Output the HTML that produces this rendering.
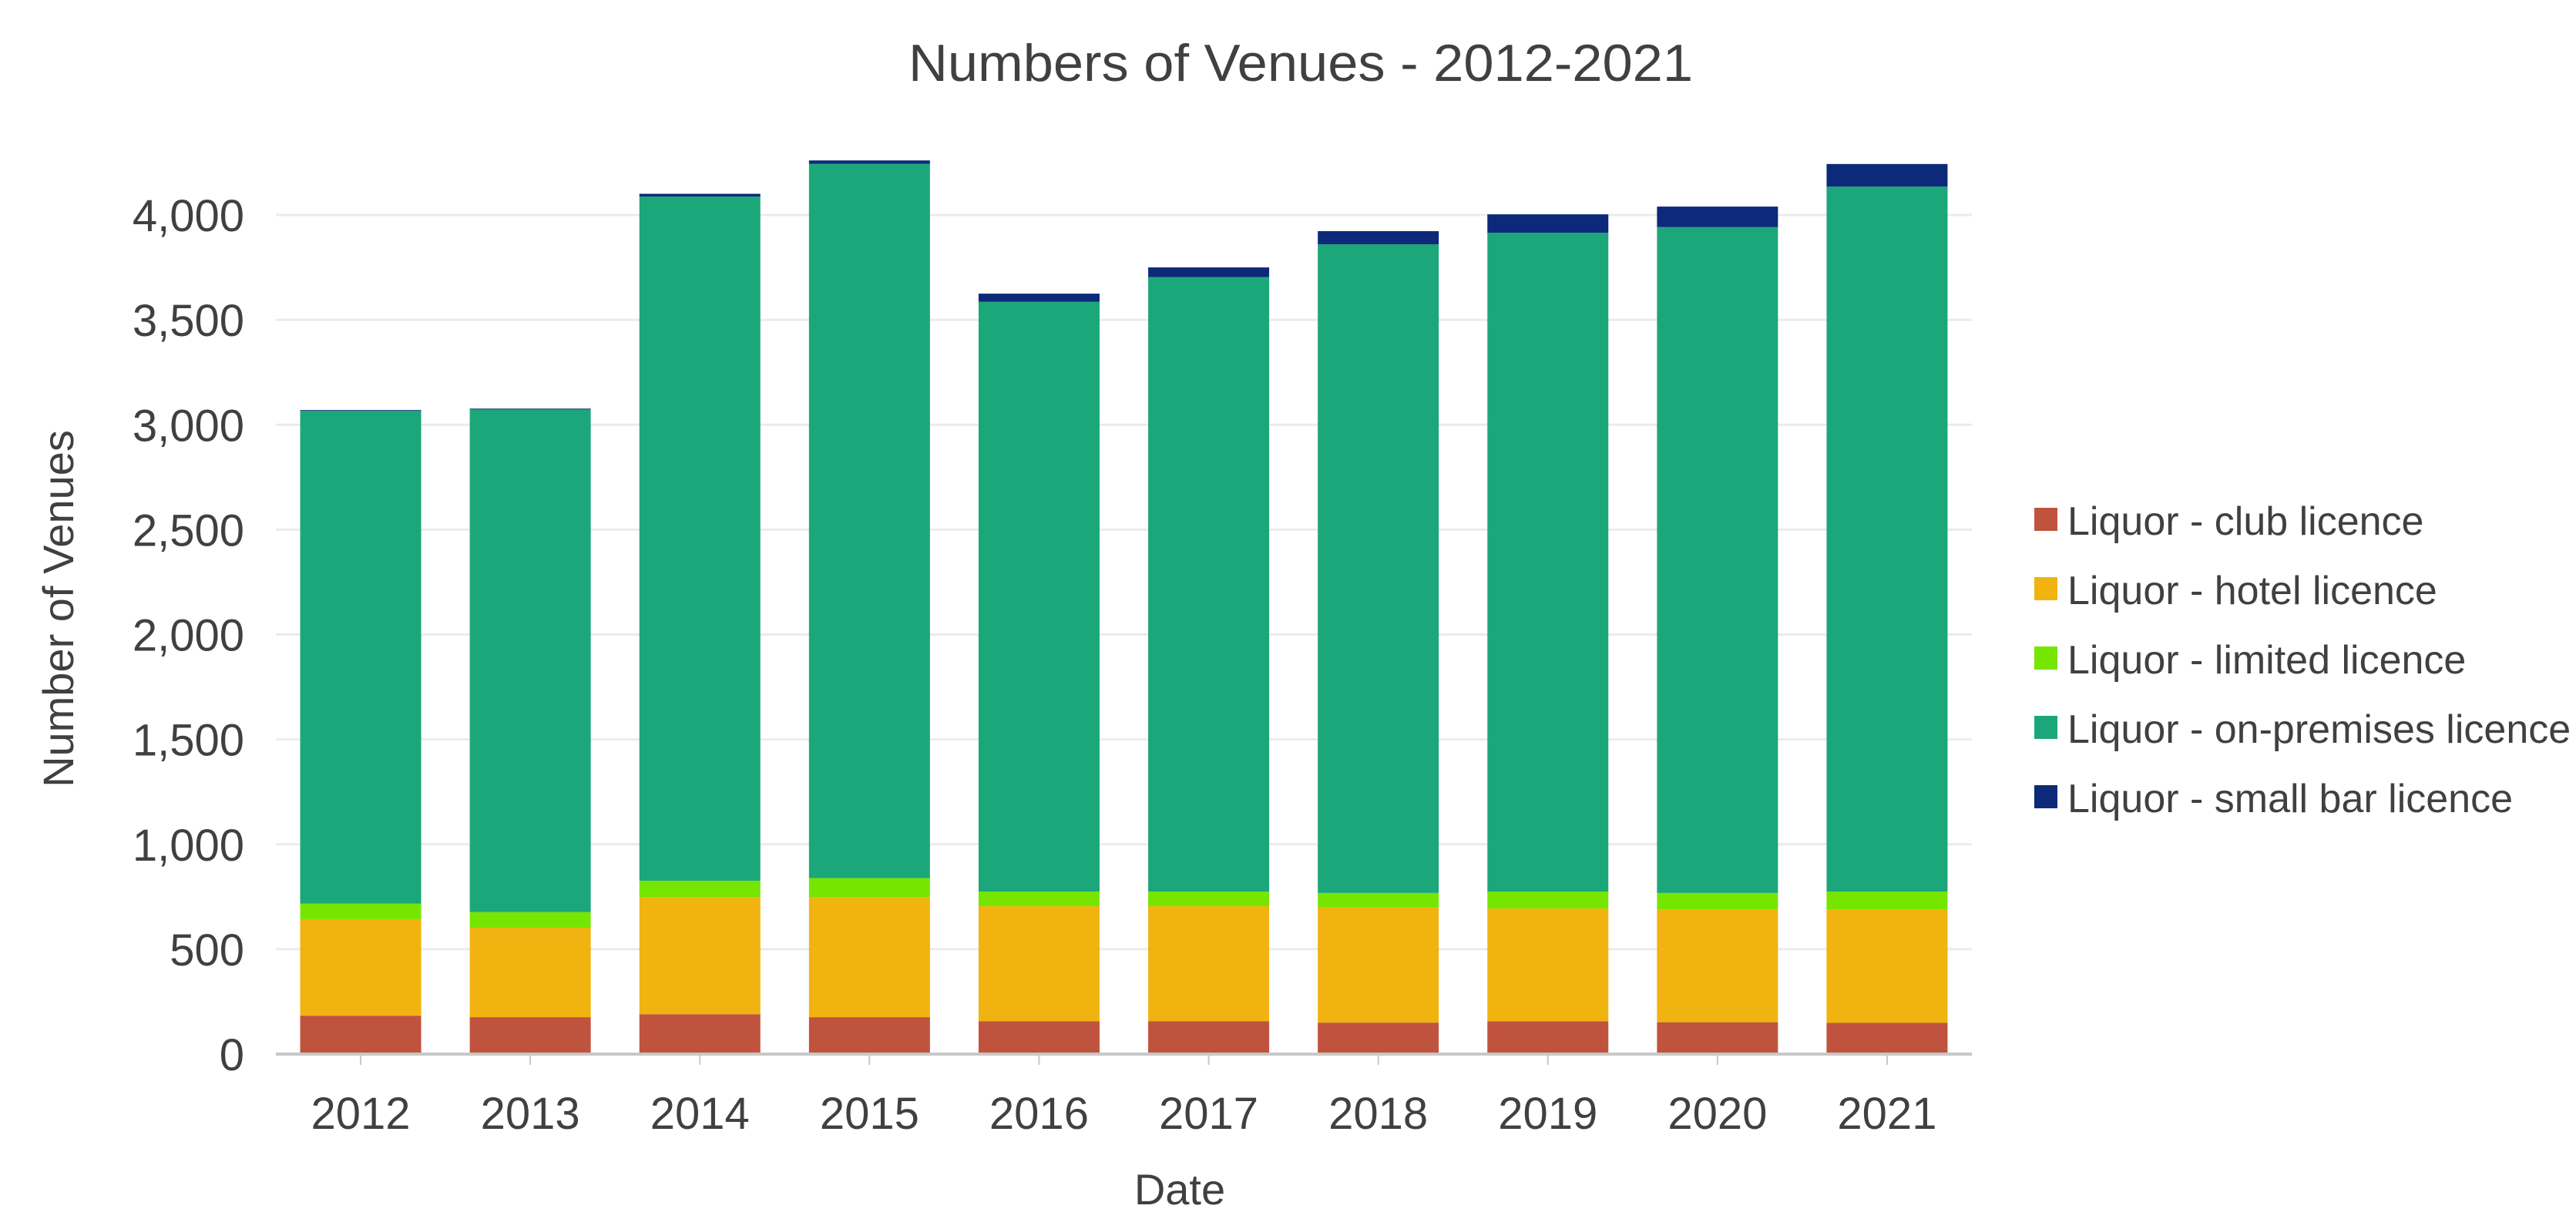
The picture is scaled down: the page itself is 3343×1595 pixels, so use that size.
<!DOCTYPE html>
<html><head><meta charset="utf-8"><style>
html,body{margin:0;padding:0;background:#fff;}
svg{display:block;}
text{font-family:"Liberation Sans",sans-serif;fill:#404040;}
</style></head><body>
<svg id="chart" width="3343" height="1595" viewBox="0 0 3343 1595">
<text x="1688" y="105" font-size="68" text-anchor="middle" textLength="1018" lengthAdjust="spacingAndGlyphs">Numbers of Venues - 2012-2021</text>
<g id="grid"></g><g id="bars"></g><g id="axes"></g>
<text transform="translate(95,790) rotate(-90)" font-size="56" text-anchor="middle">Number of Venues</text>
<text x="1531" y="1563" font-size="56" text-anchor="middle">Date</text>
<g id="legend"></g>
</svg>
<script>
const categories = ["2012","2013","2014","2015","2016","2017","2018","2019","2020","2021"];
const seriesNames = ["Liquor - club licence","Liquor - hotel licence","Liquor - limited licence","Liquor - on-premises licence","Liquor - small bar licence"];
const club = [183,176,190,176,157,157,150,156,152,149];
const hotel = [460,426,558,572,548,548,550,538,538,541];
const limited = [74,75,78,91,70,70,68,81,78,85];
const onPremises = [2349,2396,3262,3405,2811,2929,3092,3140,3174,3360];
const smallBar = [4,4,13,16,39,46,63,88,98,108];
const yTicks = [0,500,1000,1500,2000,2500,3000,3500,4000];
const yTickLabels = ["0","500","1,000","1,500","2,000","2,500","3,000","3,500","4,000"];
const colors = ["#c0533e","#f0b310","#76e600","#1ca77a","#0d2a7a"];
const series = [club,hotel,limited,onPremises,smallBar];

const NS="http://www.w3.org/2000/svg";
const L=358,R=2559,Y0=1368,Y4000=279;
const yScale=v=>Y0-v*(Y0-Y4000)/4000;
const band=(R-L)/categories.length;
const xCenter=i=>L+band*(i+0.5);
const barW=157;
function mk(tag,attrs,parent){const e=document.createElementNS(NS,tag);for(const k in attrs)e.setAttribute(k,attrs[k]);parent.appendChild(e);return e;}
const grid=document.getElementById('grid'),bars=document.getElementById('bars'),axes=document.getElementById('axes'),legend=document.getElementById('legend');
yTicks.forEach((t,i)=>{
  if(t>0){const g=mk('line',{x1:L,x2:R,y1:yScale(t),y2:yScale(t),stroke:'#ebebeb','stroke-width':3},grid);
  
  }
  const tx=mk('text',{x:317,y:yScale(t)+21,'font-size':58,'text-anchor':'end'},axes);
  tx.textContent=yTickLabels[i];
  
  
});
categories.forEach((c,i)=>{
  let acc=0;
  series.forEach((s,k)=>{
    const y1=yScale(acc),y2=yScale(acc+s[i]);acc+=s[i];
    const r=mk('rect',{x:xCenter(i)-barW/2,y:y2,width:barW,height:Math.max(0,y1-y2),fill:colors[k]},bars);
    
    
  });
  const tk=mk('line',{x1:xCenter(i),x2:xCenter(i),y1:Y0,y2:Y0+14,stroke:'#c8c8c8','stroke-width':2},axes);
  
  
  const lb=mk('text',{x:xCenter(i),y:1465,'font-size':58,'text-anchor':'middle'},axes);
  lb.textContent=c;
  
  
});
const ax=mk('line',{x1:L,x2:R,y1:Y0,y2:Y0,stroke:'#c8c8c8','stroke-width':4},axes);


seriesNames.forEach((n,k)=>{
  const cy=675+k*90;
  const g=mk('g',{},legend);
  
  
  mk('rect',{x:2640,y:cy-16,width:30,height:30,fill:colors[k]},g);
  const t=mk('text',{x:2683,y:cy+19,'font-size':52},g);
  t.textContent=n;
});
</script>
</body></html>
